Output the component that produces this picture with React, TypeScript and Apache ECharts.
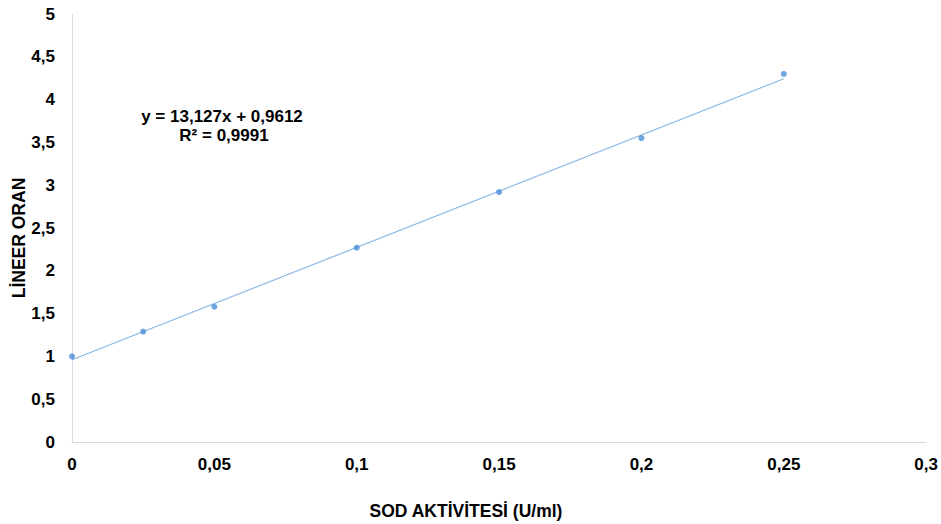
import React, { useEffect, useRef } from "react";
import * as echarts from "echarts";

const activity = [0, 0.025, 0.05, 0.1, 0.15, 0.2, 0.25];
const ratio = [1.0, 1.29, 1.58, 2.27, 2.92, 3.55, 4.3];
const trendX = [0, 0.25];
const trendY = [0.9612, 4.2430];
const equationLines = ["y = 13,127x + 0,9612", "R² = 0,9991"];
const xAxisTitle = "SOD AKTİVİTESİ (U/ml)";
const yAxisTitle = "LİNEER ORAN";

const fmt = (v: number) => String(v).replace(".", ",");
const FONT = "'Liberation Sans', Arial, sans-serif";

export default function App() {
  const ref = useRef<HTMLDivElement>(null);
  useEffect(() => {
    document.body.style.margin = "0";
    const chart = echarts.init(ref.current!, null, { renderer: "svg" });
    chart.setOption({
      animation: false,
      backgroundColor: "#ffffff",
      grid: { left: 72, right: 14, top: 14, bottom: 82, containLabel: false },
      xAxis: {
        type: "value",
        min: 0,
        max: 0.3,
        interval: 0.05,
        axisLine: { show: true, lineStyle: { color: "#d3dbe6", width: 1 } },
        axisTick: { show: false },
        splitLine: { show: false },
        axisLabel: {
          formatter: (v: number) => fmt(v),
          fontFamily: FONT,
          fontWeight: "bold",
          fontSize: 17,
          color: "#000",
          margin: 14,
        },
      },
      yAxis: {
        type: "value",
        min: 0,
        max: 5,
        interval: 0.5,
        axisLine: { show: true, lineStyle: { color: "#d3dbe6", width: 1 } },
        axisTick: { show: false },
        splitLine: { show: false },
        axisLabel: {
          formatter: (v: number) => fmt(v),
          fontFamily: FONT,
          fontWeight: "bold",
          fontSize: 17,
          color: "#000",
          margin: 17,
        },
      },
      series: [
        {
          type: "line",
          data: trendX.map((x, i) => [x, trendY[i]]),
          symbol: "none",
          lineStyle: { color: "#8cb8e4", width: 1.2 },
          z: 1,
        },
        {
          type: "scatter",
          data: activity.map((x, i) => [x, ratio[i]]),
          symbol: "circle",
          symbolSize: 6,
          itemStyle: { color: "#4a8fd8" },
          z: 2,
        },
      ],
      graphic: [
        {
          type: "text",
          x: 222,
          y: 116,
          style: {
            text: equationLines[0],
            font: `bold 17px ${FONT}`,
            fill: "#000",
            align: "center",
            verticalAlign: "middle",
          },
        },
        {
          type: "text",
          x: 224,
          y: 135,
          style: {
            text: equationLines[1],
            font: `bold 17px ${FONT}`,
            fill: "#000",
            align: "center",
            verticalAlign: "middle",
          },
        },
        {
          type: "text",
          x: 466,
          y: 511,
          style: {
            text: xAxisTitle,
            font: `bold 17.5px ${FONT}`,
            fill: "#000",
            align: "center",
            verticalAlign: "middle",
          },
        },
        {
          type: "text",
          x: 19,
          y: 238,
          rotation: Math.PI / 2,
          style: {
            text: yAxisTitle,
            font: `bold 17.5px ${FONT}`,
            fill: "#000",
            align: "center",
            verticalAlign: "middle",
          },
        },
      ],
    });
    return () => chart.dispose();
  }, []);
  return (
    <div
      ref={ref}
      style={{ width: 941, height: 524, position: "absolute", left: 0, top: 0 }}
    />
  );
}
